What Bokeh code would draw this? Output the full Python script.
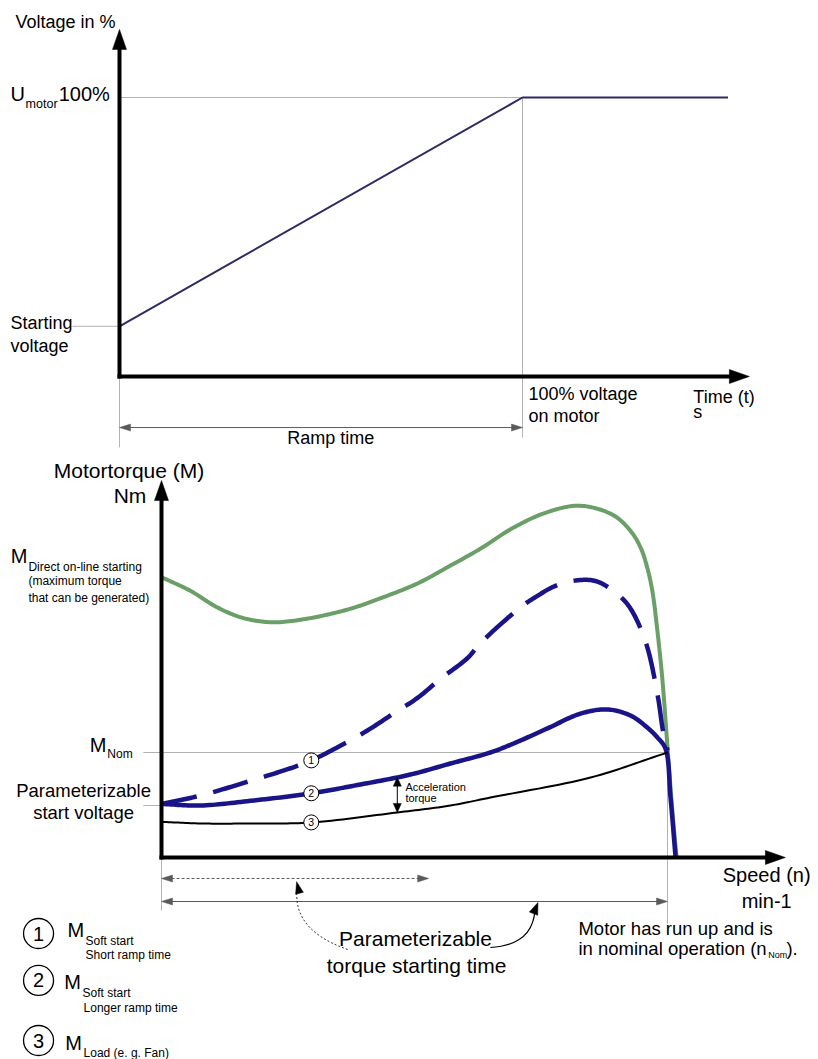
import numpy as np
from bokeh.plotting import figure
from bokeh.models import Range1d
from bokeh.core.properties import value
from bokeh.embed import file_html
from bokeh.resources import INLINE

FONT = "Liberation Sans"

# ---------------- top chart: voltage ramp (time in % of ramp time, voltage in %) ----------------
ramp_time_pct = [0, 100, 151]
ramp_voltage_pct = [18, 100, 100]
start_voltage_pct = 18
nominal_voltage_pct = 100

# ---------------- bottom chart: speed in % of n_Nom, torque in % of M_Nom ----------------
dol_speed = [0, 5.7, 11.1, 16.2, 22.1, 29.4, 37.4, 43.9, 50.6, 57.1, 63.0, 69.5, 76.3, 82.8,
             89.3, 92.7, 94.7, 96.0, 97.0, 98.0, 99.0, 100.0, 101.0, 101.8]
dol_torque = [267, 254, 238, 228, 224, 228, 237, 248, 261, 278, 294, 314, 329, 335,
              326, 311, 295, 276, 254, 216, 169, 105, 42, 0]

short_speed = [0, 7.7, 17.6, 25.5, 29.4, 34.8, 40.7, 45.8, 50.6, 55.1, 60.5, 63.0, 70.9, 73.9,
               78.0, 82.2, 86.0, 90.3, 92.7, 95.7, 98.0, 99.2, 100.0]
short_torque = [51, 59, 73, 85, 92, 105, 121, 137, 152, 170, 190, 204, 238, 248,
                259, 264, 263, 250, 237, 205, 156, 118, 102]

long_speed = [0, 7.7, 17.6, 29.4, 38.7, 49.2, 57.1, 65.0, 69.6, 76.3, 82.8, 88.1, 92.7, 96.0,
              98.0, 99.6, 100.6, 101.6]
long_torque = [51, 49.5, 54, 61, 69, 79, 89.5, 100, 108.6, 123, 137, 141, 135.2, 123.8,
               114.3, 103.8, 57, 0]

load_speed = [0, 7.7, 17.6, 29.4, 46.6, 57.1, 65.0, 84.8, 100]
load_torque = [34, 32.4, 32.4, 33.3, 42.9, 49.5, 57.1, 76.2, 100]

nominal_torque = 100
start_torque_level = 49.5
marker_speed = 29.6
short_ramp_pct = 52.8      # dashed arrow: shorter torque starting time
accel_speed = 46.6

# pixel per data unit (used for arrow heads and curve smoothing)
KX_T, KY_T = 4.03, 2.79
KX_B, KY_B = 5.06, 1.05

p = figure(width=818, height=1059,
           x_range=Range1d(-29.529, 173.449), y_range=Range1d(-244.803, 134.767),
           output_backend="svg", toolbar_location=None,
           x_axis_location=None, y_axis_location=None, min_border=0)
p.extra_x_ranges = {"spd": Range1d(-31.818, 129.842)}
p.extra_y_ranges = {"trq": Range1d(-192.381, 816.190)}
p.grid.visible = False
p.outline_line_color = None

B = dict(x_range_name="spd", y_range_name="trq")
GRAY = "#b3b3b3"
AGRAY = "#5a5a5a"
BLUE = "#1a1489"
GREEN = "#6a9f68"
NAVY = "#2e2b63"


def rng(b):
    return B if b else {}


def smooth(xs, ys, kx, ky, n=16):
    """Centripetal Catmull-Rom path through the read points (rendering only)."""
    P = np.column_stack([np.asarray(xs, float) * kx, np.asarray(ys, float) * ky])
    P = np.vstack([2 * P[0] - P[1], P, 2 * P[-1] - P[-2]])
    out = [P[1]]
    tt = np.linspace(0, 1, n + 1)[1:, None]
    for i in range(1, len(P) - 2):
        p0, p1, p2, p3 = P[i - 1], P[i], P[i + 1], P[i + 2]
        d01 = max(np.linalg.norm(p1 - p0) ** 0.5, 1e-6)
        d12 = max(np.linalg.norm(p2 - p1) ** 0.5, 1e-6)
        d23 = max(np.linalg.norm(p3 - p2) ** 0.5, 1e-6)
        m1 = ((p1 - p0) / d01 - (p2 - p0) / (d01 + d12) + (p2 - p1) / d12) * d12
        m2 = ((p2 - p1) / d12 - (p3 - p1) / (d12 + d23) + (p3 - p2) / d23) * d12
        c1 = p1 + m1 / 3
        c2 = p2 - m2 / 3
        seg = (1 - tt) ** 3 * p1 + 3 * (1 - tt) ** 2 * tt * c1 + 3 * (1 - tt) * tt ** 2 * c2 + tt ** 3 * p2
        out.extend(seg)
    out = np.array(out)
    return out[:, 0] / kx, out[:, 1] / ky


def txt(x, y, s, size, b=False, align="left", color="black"):
    p.text(x=[x], y=[y], text=[s], text_font=value(FONT), text_font_size=f"{size}px",
           text_align=align, text_baseline="middle", text_color=color, **rng(b))


def head(xt, yt, ux, uy, L, W, b=False, color="black"):
    kx, ky = (KX_B, KY_B) if b else (KX_T, KY_T)
    n = (ux * ux + uy * uy) ** 0.5
    ux, uy = ux / n, uy / n
    bx, by = -L * ux, -L * uy
    vx, vy = -uy, ux
    xs = [xt, xt + (bx + W / 2 * vx) / kx, xt + (bx - W / 2 * vx) / kx]
    ys = [yt, yt + (by + W / 2 * vy) / ky, yt + (by - W / 2 * vy) / ky]
    p.patch(xs, ys, fill_color=color, line_color=color, line_width=0.5, **rng(b))


# ======================= TOP CHART =======================
p.line([0, 100], [nominal_voltage_pct] * 2, line_color=GRAY, line_width=1)
p.line([-11.7, 0], [start_voltage_pct] * 2, line_color=GRAY, line_width=1)
p.line([100, 100], [nominal_voltage_pct, -21.9], line_color=GRAY, line_width=1)
p.line([0, 0], [0, -25.4], line_color=GRAY, line_width=1)
# ramp time arrow
p.line([1, 99], [-18.3, -18.3], line_color=AGRAY, line_width=1)
head(0, -18.3, -1, 0, 11, 7, color=AGRAY)
head(100, -18.3, 1, 0, 11, 7, color=AGRAY)
# voltage ramp
p.line(ramp_time_pct, ramp_voltage_pct, line_color=NAVY, line_width=2)
# axes
p.line([0, 0], [-0.7, 118], line_color="black", line_width=4)
head(0, 124.4, 0, 1, 20, 14)
p.line([-0.5, 152], [0, 0], line_color="black", line_width=4)
head(156.3, 0, 1, 0, 20, 14)

txt(-25.8, 126.9, "Voltage in %", 18)
txt(-27.05, 101.4, "U", 20)
txt(-23.3, 97.8, "motor", 12.5)
txt(-15.1, 101.4, "100%", 20)
txt(-27.05, 19.0, "Starting", 18)
txt(-27.05, 11.1, "voltage", 18)
txt(101.5, -6.1, "100% voltage", 18)
txt(101.5, -14.0, "on motor", 18)
txt(142.4, -7.5, "Time (t)", 18)
txt(142.4, -12.9, "s", 18)
txt(52.4, -22.2, "Ramp time", 18, align="center")

# ======================= BOTTOM CHART =======================
p.line([-3.6, 100], [nominal_torque] * 2, line_color=GRAY, line_width=1, **B)
p.line([-3.6, 0], [start_torque_level] * 2, line_color=GRAY, line_width=1, **B)
p.line([100, 100], [nominal_torque, -62.9], line_color=GRAY, line_width=1, **B)
p.line([0, 0], [0, -50.5], line_color=GRAY, line_width=1, **B)

gx, gy = smooth(dol_speed, dol_torque, KX_B, KY_B)
p.line(gx, gy, line_color=GREEN, line_width=4, line_join="round", **B)
sx, sy = smooth(short_speed, short_torque, KX_B, KY_B)
p.line(sx, sy, line_color=BLUE, line_width=4.5, line_dash="36 17", line_join="round", **B)
lx, ly = smooth(long_speed, long_torque, KX_B, KY_B)
p.line(lx, ly, line_color=BLUE, line_width=4.5, line_join="round", **B)
ox, oy = smooth(load_speed, load_torque, KX_B, KY_B)
p.line(ox, oy, line_color="black", line_width=2, line_join="round", **B)

# numbered circles on curves
for sp, tq, lab in [(short_speed, short_torque, "1"), (long_speed, long_torque, "2"),
                    (load_speed, load_torque, "3")]:
    yy = float(np.interp(marker_speed, sp, tq))
    p.scatter([marker_speed], [yy], marker="circle", size=15, fill_color="white",
              line_color="black", line_width=1, **B)
    txt(marker_speed, yy, lab, 10.5, b=True, align="center")

# acceleration torque arrow
acc_top = float(np.interp(accel_speed, long_speed, long_torque))
acc_bot = float(np.interp(accel_speed, load_speed, load_torque))
p.line([accel_speed] * 2, [acc_bot + 6, acc_top - 6], line_color="black", line_width=1, **B)
head(accel_speed, acc_top, 0, 1, 9, 8, b=True)
head(accel_speed, acc_bot, 0, -1, 9, 8, b=True)
txt(48.2, 67.6, "Acceleration", 11, b=True)
txt(48.2, 57.1, "torque", 11, b=True)

# axes
p.line([0, 0], [-2, 342], line_color="black", line_width=4, **B)
head(0, 359, 0, 1, 20, 14, b=True)
p.line([-0.4, 120], [0, 0], line_color="black", line_width=4, **B)
head(123.3, 0, 1, 0, 20, 14, b=True)

# starting time arrows
p.line([1, short_ramp_pct - 1], [-20, -20], line_color=AGRAY, line_width=1, line_dash="3 2", **B)
head(0, -20, -1, 0, 11, 7, b=True, color=AGRAY)
head(short_ramp_pct, -20, 1, 0, 11, 7, b=True, color=AGRAY)
p.line([1, 99], [-41.9, -41.9], line_color=AGRAY, line_width=1, **B)
head(0, -41.9, -1, 0, 11, 7, b=True, color=AGRAY)
head(100, -41.9, 1, 0, 11, 7, b=True, color=AGRAY)

# curved pointers
p.bezier(x0=[36.8], y0=[-87.6], x1=[26.8], y1=[-30], cx0=[27.5], cy0=[-72],
         cx1=[26.4], cy1=[-48], line_color="#333333", line_width=1, line_dash="2 2", **B)
head(26.7, -23, -0.24, 0.97, 12, 8, b=True)
p.bezier(x0=[65.0], y0=[-85.7], x1=[73.8], y1=[-50], cx0=[71.9], cy0=[-83.8],
         cx1=[73.6], cy1=[-66], line_color="black", line_width=1.2, **B)
head(74.4, -42.9, 0.37, 0.93, 12, 9, b=True)

# labels
txt(-21.3, 368.6, "Motortorque (M)", 21, b=True)
txt(-3.0, 344.8, "Nm", 21, b=True, align="right")
txt(-29.8, 287.6, "M", 20, b=True)
txt(-26.3, 277.1, "Direct on-line starting", 12, b=True)
txt(-26.3, 262.9, "(maximum torque", 12, b=True)
txt(-26.3, 247.6, "that can be generated)", 12, b=True)
txt(-14.2, 106.7, "M", 20, b=True)
txt(-10.7, 98.1, "Nom", 12, b=True)
txt(-15.4, 63.8, "Parameterizable", 18.5, b=True, align="center")
txt(-15.4, 42.9, "start voltage", 18.5, b=True, align="center")
txt(119.6, -17.1, "Speed (n)", 20, b=True, align="center")
txt(119.6, -41.0, "min-1", 20, b=True, align="center")
txt(82.4, -67.6, "Motor has run up and is", 18.5, b=True)
txt(82.4, -86.7, "in nominal operation (n", 18.5, b=True)
txt(119.9, -92.4, "Nom", 9, b=True)
txt(123.5, -86.7, ").", 18.5, b=True)
txt(50.2, -77.1, "Parameterizable", 21, b=True, align="center")
txt(50.4, -102.9, "torque starting time", 21, b=True, align="center")

# legend block
leg_x = -24.3
for cy, lab in [(-72.4, "1"), (-117.1, "2"), (-174.3, "3")]:
    p.scatter([leg_x], [cy], marker="circle", size=30, fill_color="white",
              line_color="black", line_width=1.3, **B)
    txt(leg_x, cy, lab, 20, b=True, align="center")
txt(-18.6, -69.5, "M", 20, b=True)
txt(-15.0, -80.0, "Soft start", 12, b=True)
txt(-15.0, -93.3, "Short ramp time", 12, b=True)
txt(-19.2, -119.0, "M", 20, b=True)
txt(-15.6, -129.5, "Soft start", 12, b=True)
txt(-15.4, -142.9, "Longer ramp time", 12, b=True)
txt(-19.0, -176.2, "M", 20, b=True)
txt(-15.4, -186.2, "Load (e. g. Fan)", 12, b=True)

open("out.html", "w").write(file_html(p, INLINE))
